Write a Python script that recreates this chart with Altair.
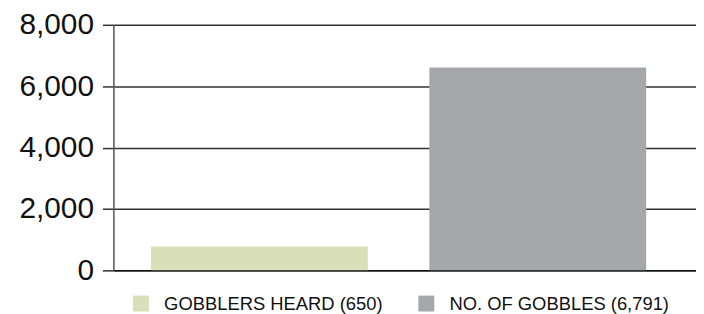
import altair as alt
import pandas as pd

categories = ["GOBBLERS HEARD (650)", "NO. OF GOBBLES (6,791)"]
values = [780, 6610]
colors = ["#d9dfb9", "#a6a7ab"]
y_ticks = [0, 2000, 4000, 6000, 8000]

df = pd.DataFrame({"cat": categories, "val": values})

chart = alt.Chart(df).mark_bar().encode(
    x=alt.X("cat:N", sort=categories,
            scale=alt.Scale(paddingInner=0.221, paddingOuter=0.157, align=0.43),
            axis=alt.Axis(labels=False, ticks=False, title=None, domain=True,
                          domainColor="#111111", domainWidth=1.5)),
    y=alt.Y("val:Q", scale=alt.Scale(domain=[0, 8000], nice=False),
            axis=alt.Axis(values=y_ticks, format=",d", title=None,
                          labelFontSize=30, labelFont="Liberation Sans",
                          labelColor="#111111", labelPadding=9,
                          tickSize=11, tickColor="#333333", tickWidth=1.5,
                          grid=True, gridColor="#333333", gridWidth=1.5,
                          domain=True, domainColor="#555555", domainWidth=1.5)),
    color=alt.Color("cat:N", sort=categories,
                    scale=alt.Scale(domain=categories, range=colors),
                    legend=alt.Legend(title=None, orient="none", direction="horizontal",
                                      legendX=18.5, legendY=271,
                                      symbolType="square", symbolSize=256,
                                      symbolStrokeWidth=0, symbolOpacity=1,
                                      labelFontSize=18.5, labelFont="Liberation Sans",
                                      labelColor="#111111", labelOffset=14,
                                      columnPadding=34, labelLimit=400)),
).properties(
    width=586, height=247,
    padding={"left": 106, "top": 16, "right": 0, "bottom": 43},
    autosize=alt.AutoSizeParams(type="none"),
).configure_view(stroke=None)

chart.save("out.html", embed_options={"renderer": "svg", "actions": False})
